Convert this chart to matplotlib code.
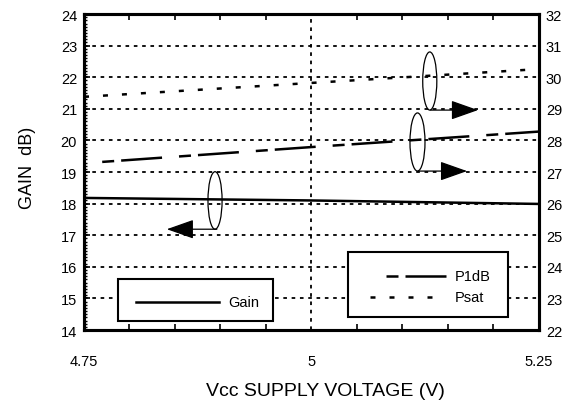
import matplotlib
matplotlib.use("Agg")
import matplotlib.pyplot as plt
from matplotlib.patches import Ellipse, Rectangle
from matplotlib.lines import Line2D
from matplotlib.ticker import MultipleLocator

plt.rcParams['font.family'] = ['Liberation Sans', 'DejaVu Sans']

# Data
vcc_gain = [4.75, 5.0, 5.25]
gain_db = [18.18, 18.1, 17.99]
vcc_p1db = [4.77, 5.0, 5.25]
p1db_dbm = [27.32, 27.79, 28.28]
vcc_psat = [4.75, 5.0, 5.24]
psat_dbm = [29.38, 29.82, 30.24]

x_ticks = [4.75, 5.0, 5.25]
x_labels = ["4.75", "5", "5.25"]
left_ticks = list(range(14, 25))
right_ticks = list(range(22, 33))

fig = plt.figure(figsize=(5.73, 4.02), dpi=100)
ax = fig.add_axes([0.1466, 0.1766, 0.794, 0.786])
ax2 = ax.twinx()

ax.set_xlim(4.75, 5.25)
ax.set_ylim(14, 24)
ax2.set_ylim(22, 32)

# grid
for y in left_ticks[1:-1]:
    ax.axhline(y, color='black', lw=1.3, dashes=(2.0, 2.6), zorder=1)
ax.axvline(5.0, color='black', lw=1.3, dashes=(2.0, 2.6), zorder=1)

# lines
ax.plot(vcc_gain, gain_db, color='black', lw=1.8, solid_capstyle='butt', zorder=3)
ax2.plot(vcc_p1db, p1db_dbm, color='black', lw=1.8,
         linestyle=(0, (4.8, 2.8, 16.4, 6.8)), zorder=3)
ax2.plot(vcc_psat, psat_dbm, color='black', lw=1.8,
         linestyle=(0, (2.0, 5.6)), zorder=3)

# ellipses and arrows (annotations)
arrow_kw = dict(arrowstyle='-|>,head_length=1.7,head_width=0.6', color='black',
                lw=0.9, shrinkA=0, shrinkB=0)
ax.add_patch(Ellipse((4.894, 18.1), 0.0155, 1.82, fill=False, lw=0.9, zorder=4))
ax.annotate('', xy=(4.841, 17.19), xytext=(4.896, 17.19), arrowprops=arrow_kw, zorder=4)
ax.add_patch(Ellipse((5.1165, 19.95), 0.0165, 1.84, fill=False, lw=0.9, zorder=4))
ax.annotate('', xy=(5.171, 19.03), xytext=(5.117, 19.03), arrowprops=arrow_kw, zorder=4)
ax.add_patch(Ellipse((5.130, 21.88), 0.0155, 1.84, fill=False, lw=0.9, zorder=4))
ax.annotate('', xy=(5.183, 20.96), xytext=(5.131, 20.96), arrowprops=arrow_kw, zorder=4)

# legend boxes
ax.add_patch(Rectangle((0.0747, 0.0285), 0.3403, 0.1325, transform=ax.transAxes,
                       facecolor='white', edgecolor='black', lw=1.5, zorder=5))
ax.add_line(Line2D([0.114, 0.297], [0.0886, 0.0886], transform=ax.transAxes,
                   color='black', lw=1.8, zorder=6))
ax.text(0.316, 0.0886, "Gain", transform=ax.transAxes, fontsize=10.5,
        va='center', ha='left', zorder=6)

ax.add_patch(Rectangle((0.580, 0.041), 0.352, 0.206, transform=ax.transAxes,
                       facecolor='white', edgecolor='black', lw=1.5, zorder=5))
ax.add_line(Line2D([0.664, 0.796], [0.171, 0.171], transform=ax.transAxes,
                   color='black', lw=1.8, linestyle=(0, (4.8, 2.8, 16.4, 6.8)), zorder=6))
ax.text(0.815, 0.171, "P1dB", transform=ax.transAxes, fontsize=10.5,
        va='center', ha='left', zorder=6)
ax.add_line(Line2D([0.629, 0.796], [0.104, 0.104], transform=ax.transAxes,
                   color='black', lw=1.8, linestyle=(0, (2.0, 5.6)), zorder=6))
ax.text(0.815, 0.104, "Psat", transform=ax.transAxes, fontsize=10.5,
        va='center', ha='left', zorder=6)

# ticks
ax.set_xticks(x_ticks)
ax.set_xticklabels(x_labels)
ax.xaxis.set_minor_locator(MultipleLocator(0.05))
ax.set_yticks(left_ticks)
ax.yaxis.set_minor_locator(MultipleLocator(0.1))
ax2.set_yticks(right_ticks)

ax.tick_params(axis='x', which='major', direction='in', length=0, pad=17, labelsize=10.5)
ax.tick_params(axis='x', which='minor', direction='in', length=4, width=1.2, top=True, bottom=True)
ax.tick_params(axis='y', which='major', direction='in', length=4, width=1.2, pad=5, labelsize=10.5)
ax.tick_params(axis='y', which='minor', direction='in', length=2.5, width=1.0)
ax2.tick_params(axis='y', which='major', direction='in', length=0, pad=5, labelsize=10.5)

for sp in list(ax.spines.values()) + list(ax2.spines.values()):
    sp.set_linewidth(2.2)

ax.set_xlabel("Vcc SUPPLY VOLTAGE (V)", fontsize=14, labelpad=10)
ax.xaxis.label.set_x(0.53)
ax.set_ylabel("GAIN  dB)", fontsize=13, labelpad=18)
ax.yaxis.label.set_y(0.516)

fig.savefig("out.png", dpi=100)
